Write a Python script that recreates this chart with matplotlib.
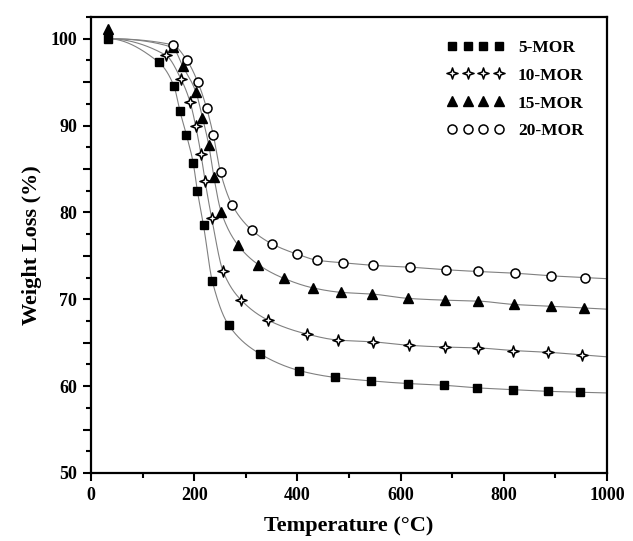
import numpy as np
import matplotlib
matplotlib.use("Agg")
import matplotlib.pyplot as plt
from matplotlib.path import Path
from matplotlib.ticker import MultipleLocator, FuncFormatter

plt.rcParams["font.family"] = ["Liberation Serif", "DejaVu Serif"]
plt.rcParams["font.weight"] = "bold"

# TGA data, temperature (C) vs weight (%)
t_5 = [33, 131, 161, 172, 185, 198, 206, 218, 235, 267, 328, 403, 473, 543,
       614, 684, 748, 818, 886, 948]
w_5 = [100.0, 97.3, 94.5, 91.7, 88.9, 85.7, 82.5, 78.5, 72.1, 67.0, 63.7, 61.8,
       61.0, 60.6, 60.3, 60.1, 59.8, 59.6, 59.4, 59.3]

t_10 = [145, 174, 192, 203, 213, 221, 234, 256, 291, 343, 418, 479, 546, 617,
        686, 750, 818, 886, 951]
w_10 = [98.1, 95.4, 92.7, 89.9, 86.7, 83.6, 79.3, 73.2, 69.9, 67.6, 66.0, 65.3,
        65.1, 64.7, 64.5, 64.4, 64.1, 63.9, 63.6]

t_15 = [33, 158, 178, 203, 216, 228, 238, 252, 284, 324, 374, 431, 484, 545,
        615, 685, 749, 820, 891, 955]
w_15 = [101.1, 99.0, 96.8, 93.9, 90.9, 87.8, 84.1, 80.1, 76.3, 74.0, 72.4, 71.3,
        70.8, 70.6, 70.1, 69.9, 69.8, 69.4, 69.2, 69.0]

t_20 = [158, 186, 207, 224, 237, 251, 274, 311, 350, 399, 438, 488, 547, 618,
        688, 749, 822, 891, 957]
w_20 = [99.3, 97.5, 95.0, 92.0, 88.9, 84.6, 80.8, 78.0, 76.4, 75.2, 74.5, 74.2,
        73.9, 73.7, 73.4, 73.2, 73.0, 72.7, 72.5]

labels = ["5-MOR", "10-MOR", "15-MOR", "20-MOR"]

# all fitted curves leave from the same starting weight
curve_start = (33, 100.0)


def pchip(x, y, xn):
    # monotone cubic through the points, flat at the start,
    # straight past the last point
    x = np.asarray(x, float)
    y = np.asarray(y, float)
    h = np.diff(x)
    delta = np.diff(y) / h
    d = np.zeros_like(y)
    for k in range(1, len(x) - 1):
        if delta[k - 1] * delta[k] > 0:
            w1 = 2 * h[k] + h[k - 1]
            w2 = h[k] + 2 * h[k - 1]
            d[k] = (w1 + w2) / (w1 / delta[k - 1] + w2 / delta[k])
    d[-1] = delta[-1]
    out = np.empty_like(xn)
    for i, xv in enumerate(xn):
        if xv >= x[-1]:
            out[i] = y[-1] + delta[-1] * (xv - x[-1])
            continue
        k = min(np.searchsorted(x, xv, side="right") - 1, len(x) - 2)
        s = (xv - x[k]) / h[k]
        h00 = 2 * s**3 - 3 * s**2 + 1
        h10 = s**3 - 2 * s**2 + s
        h01 = -2 * s**3 + 3 * s**2
        h11 = s**3 - s**2
        out[i] = h00 * y[k] + h10 * h[k] * d[k] + h01 * y[k + 1] + h11 * h[k] * d[k + 1]
    return out


# hollow four pointed star
s = 0.25
star = Path([(0, 1), (s, s), (1, 0), (s, -s), (0, -1), (-s, -s), (-1, 0), (-s, s), (0, 1)],
            [Path.MOVETO] + [Path.LINETO] * 7 + [Path.CLOSEPOLY])

fig = plt.figure(figsize=(6.33, 5.41), dpi=100)
ax = fig.add_axes([0.1438, 0.1257, 0.8152, 0.8429])

series = [
    (t_5, w_5, dict(marker="s", ms=6, mfc="black", mec="black")),
    (t_10, w_10, dict(marker=star, ms=8, mfc="white", mec="black", mew=1.1)),
    (t_15, w_15, dict(marker="^", ms=6.5, mfc="black", mec="black")),
    (t_20, w_20, dict(marker="o", ms=6.5, mfc="white", mec="black", mew=1.1)),
]

xs = np.linspace(curve_start[0], 1000, 800)
for (t, w, style) in series:
    if t[0] == curve_start[0]:
        cx, cy = [curve_start[0]] + t[1:], [curve_start[1]] + w[1:]
    else:
        cx, cy = [curve_start[0]] + t, [curve_start[1]] + w
    ax.plot(xs, pchip(cx, cy, xs), color="#808080", lw=0.8, zorder=2)

handles = []
for i in [3, 1, 0, 2]:
    t, w, style = series[i]
    ax.plot(t, w, ls="none", zorder=3 + i, **style)
for t, w, style in series:
    h, = ax.plot([], [], ls="none", **style)
    handles.append(h)

ax.set_xlim(0, 1000)
ax.set_ylim(50, 102.5)
ax.xaxis.set_major_locator(MultipleLocator(200))
ax.xaxis.set_minor_locator(MultipleLocator(100))
ax.yaxis.set_major_locator(MultipleLocator(5))
ax.yaxis.set_minor_locator(MultipleLocator(2.5))
ax.yaxis.set_major_formatter(FuncFormatter(lambda v, p: f"{v:.0f}" if v % 10 == 0 else ""))
ax.tick_params(which="major", direction="out", length=6, width=1.5, labelsize=13, pad=4)
ax.tick_params(which="minor", direction="out", length=3.5, width=1.5)
for sp in ax.spines.values():
    sp.set_linewidth(1.6)

ax.set_xlabel("Temperature (\u00b0C)", fontsize=16, fontweight="bold", labelpad=9)
ax.set_ylabel("Weight Loss (%)", fontsize=16, fontweight="bold", labelpad=6)

ax.legend(handles, labels, loc="upper right", bbox_to_anchor=(0.985, 0.985), frameon=False,
          numpoints=4, handlelength=3.3, handletextpad=0.8, labelspacing=0.68,
          prop={"size": 12.5, "weight": "bold"})

fig.savefig("out.png", dpi=100)
